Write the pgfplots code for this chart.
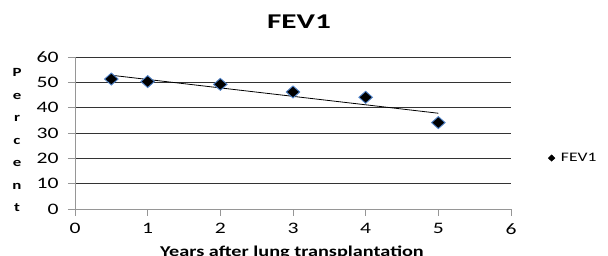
\documentclass[border=0pt]{standalone}
\usepackage{pgfplots}
\pgfplotsset{compat=1.18}
\usepackage{fontspec}
\setmainfont{Carlito}[FakeStretch=1.35]
\definecolor{mkedge}{RGB}{80,130,200}
\definecolor{axgray}{RGB}{150,150,150}
\begin{document}
\begin{tikzpicture}[x=1pt,y=1pt]
\path[use as bounding box] (0,0) rectangle (608,256);
\begin{axis}[
  at={(75pt,47pt)}, anchor=south west,
  scale only axis, width=436pt, height=152pt,
  xmin=0, xmax=6, ymin=0, ymax=60,
  xtick={0,1,2,3,4,5,6}, ytick={0,10,20,30,40,50,60},
  axis x line=bottom, axis y line=left,
  axis line style={draw=axgray, line width=0.9pt, -},
  tick style={draw=axgray, line width=0.9pt},
  tick align=outside, major tick length=7pt,
  ymajorgrids, grid style={draw=black!80, line width=0.8pt},
  ticklabel style={font=\fontsize{16}{16}\selectfont},
  xticklabel style={yshift=-4pt},
  yticklabel style={xshift=-6pt},
  /pgf/number format/assume math mode=true,
  clip=false,
  legend style={at={(1.085,0.335)}, anchor=west, draw=none, fill=none,
    font=\fontsize{13}{13}\selectfont, inner sep=0pt},
  legend image code/.code={\draw[mark=diamond*, mark size=3.2pt, mark options={fill=black, draw=black, xscale=1.4}] plot coordinates {(0pt,0pt)};},
  legend cell align=left,
]
\addplot[black, line width=0.8pt, forget plot] coordinates {(0.5,52.8) (5,37.8)};
\addplot[only marks, mark=diamond*, mark size=6pt,
  mark options={fill=black, draw=mkedge, line width=0.9pt, xscale=1.5}]
  coordinates {(0.5,51.3) (1,50.3) (2,49.2) (3,46.2) (4,44.1) (5,34.1)};
\legend{\hspace{4pt}FEV1}
\end{axis}
\node[font=\bfseries\fontsize{21}{21}\selectfont] at (299,234) {\scalebox{1.1}[1]{FEV1}};
\node[font=\bfseries\fontsize{12.5}{22.5}\selectfont, align=center, anchor=center]
  at (17,116) {P\\e\\r\\c\\e\\n\\t};
\node[font=\bfseries\fontsize{15}{15}\selectfont, anchor=base] at (292,-1) {Years after lung transplantation};
\end{tikzpicture}
\end{document}
